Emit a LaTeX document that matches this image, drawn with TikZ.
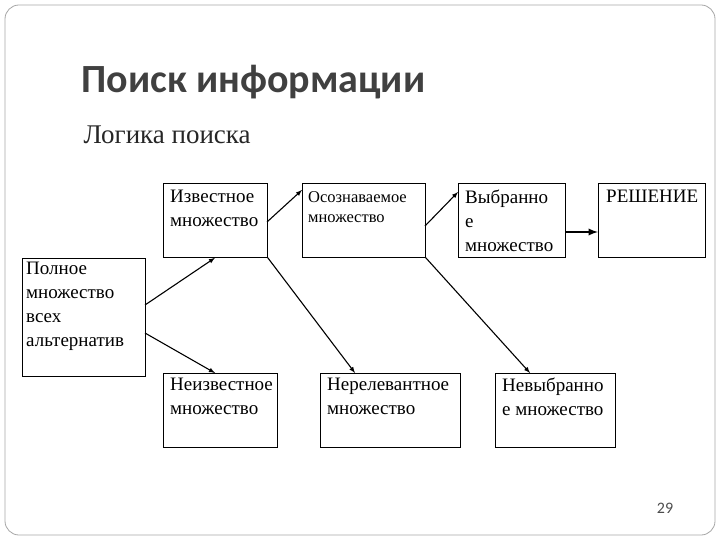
\documentclass[tikz,border=0pt]{standalone}
\usepackage{fontspec}
\setmainfont{Liberation Serif}
\newfontfamily\titlefont{Carlito}
\begin{document}
\begin{tikzpicture}[x=1pt,y=-1pt,
  bx/.style={draw,line width=0.8pt,anchor=north west,inner sep=0pt},
  txt/.style={anchor=north west,align=left,font=\fontsize{19}{24}\selectfont,inner sep=0pt},
  ar/.style={-latex,line width=1.1pt}]
\useasboundingbox (0,0) rectangle (720,540);
\draw[gray!70,line width=0.8pt,rounded corners=14] (5,5) rectangle (715,535);
\node[anchor=west,font=\titlefont\bfseries\fontsize{40}{44}\selectfont,text=black!75] (t) at (78,82) {Поиск информации};
\node[anchor=west,font=\fontsize{27}{30}\selectfont,text=black!85] (st) at (80,135) {Логика поиска};
\node[bx,minimum width=104,minimum height=74] (izv) at (163,183) {};
\node[bx,minimum width=123,minimum height=74] (osz) at (302,183) {};
\node[bx,minimum width=107,minimum height=74] (vyb) at (458,183) {};
\node[bx,minimum width=107,minimum height=74] (res) at (598,183) {};
\node[bx,minimum width=123,minimum height=118] (pol) at (22,258) {};
\node[bx,minimum width=114,minimum height=74] (neiz) at (163,373) {};
\node[bx,minimum width=140,minimum height=74] (ner) at (320,373) {};
\node[bx,minimum width=120,minimum height=74] (nev) at (495,373) {};
\node[txt] at (170,190) {Известное\\множество};
\node[txt,font=\fontsize{16.5}{20}\selectfont] at (308,191) {Осознаваемое\\множество};
\node[txt,font=\fontsize{19}{24}\selectfont] at (465,190) {Выбранно\\е\\множество};
\node[txt] at (606,190) {РЕШЕНИЕ};
\node[txt] at (26,262) {Полное\\множество\\всех\\альтернатив};
\node[txt] at (170,378) {Неизвестное\\множество};
\node[txt] at (327,378) {Нерелевантное\\множество};
\node[txt] at (502,378) {Невыбранно\\е множество};
\node[font=\titlefont\fontsize{16}{18}\selectfont,text=black!70] (pg) at (665,508) {29};
\coordinate (a1) at (145,305); \coordinate (a2) at (145,333);
\draw[ar] (a1) -- (izv.south west -| 215,0);
\draw[ar] (a2) -- (neiz.north west -| 215,0);
\draw[ar] (267,222) -- (302,190);
\draw[ar] (izv.south east) -- (355,373);
\draw[ar] (425,226) -- (458,192);
\draw[ar] (osz.south east) -- (530,373);
\draw[ar,line width=2.2pt] (565,232) -- (598,232);
\end{tikzpicture}
\end{document}
